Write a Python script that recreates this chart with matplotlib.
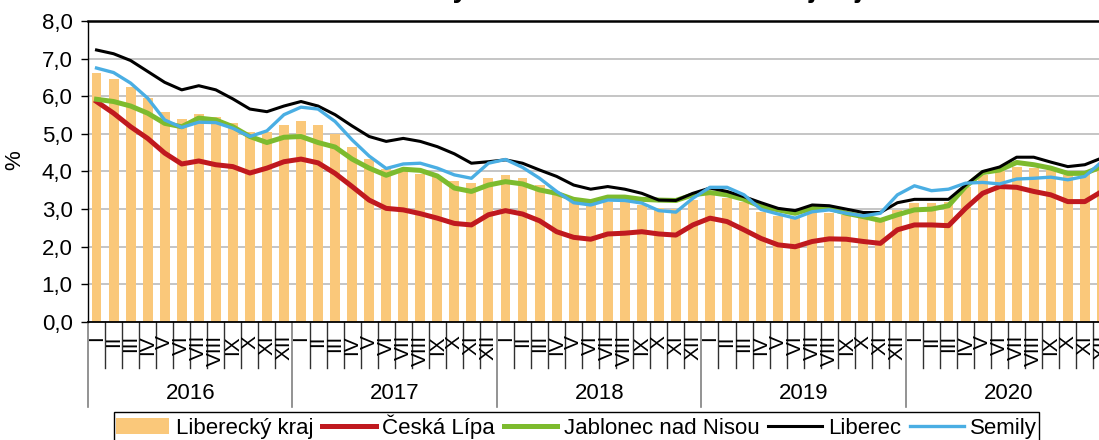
import numpy as np
import matplotlib
matplotlib.use('Agg')
import matplotlib.pyplot as plt
import matplotlib.transforms as mtransforms
from matplotlib.patches import Patch
from matplotlib.lines import Line2D

plt.rcParams['font.family'] = ['Liberation Sans', 'DejaVu Sans']

# data (monthly, I/2016 - XII/2020), in %
months = ['I', 'II', 'III', 'IV', 'V', 'VI', 'VII', 'VIII', 'IX', 'X', 'XI', 'XII']
years = ['2016', '2017', '2018', '2019', '2020']

liberecky_kraj = [6.61, 6.46, 6.24, 5.95, 5.58, 5.40, 5.52, 5.46, 5.28, 5.06, 5.05, 5.24,
                  5.35, 5.24, 5.00, 4.64, 4.33, 4.07, 4.02, 3.93, 3.88, 3.76, 3.69, 3.82,
                  3.91, 3.82, 3.64, 3.38, 3.20, 3.16, 3.20, 3.18, 3.11, 3.02, 3.00, 3.24,
                  3.38, 3.29, 3.20, 2.93, 2.82, 2.76, 2.89, 2.89, 2.85, 2.76, 2.71, 2.98,
                  3.16, 3.16, 3.20, 3.60, 3.91, 4.00, 4.13, 4.09, 4.04, 3.91, 3.95, 4.04]

ceska_lipa = [5.86, 5.55, 5.19, 4.88, 4.49, 4.20, 4.28, 4.18, 4.13, 3.96, 4.09, 4.26,
              4.33, 4.23, 3.95, 3.60, 3.24, 3.02, 2.98, 2.88, 2.76, 2.62, 2.58, 2.85,
              2.96, 2.87, 2.69, 2.40, 2.25, 2.20, 2.34, 2.36, 2.40, 2.34, 2.31, 2.58,
              2.76, 2.67, 2.45, 2.22, 2.05, 2.00, 2.14, 2.21, 2.20, 2.14, 2.09, 2.45,
              2.58, 2.58, 2.56, 3.02, 3.42, 3.60, 3.58, 3.47, 3.38, 3.20, 3.20, 3.47]

jablonec = [5.92, 5.86, 5.74, 5.55, 5.28, 5.19, 5.42, 5.37, 5.19, 4.93, 4.77, 4.91,
            4.93, 4.77, 4.65, 4.33, 4.09, 3.90, 4.06, 4.03, 3.88, 3.56, 3.47, 3.64,
            3.73, 3.67, 3.51, 3.42, 3.26, 3.20, 3.32, 3.32, 3.26, 3.24, 3.23, 3.38,
            3.44, 3.38, 3.26, 3.07, 2.98, 2.89, 3.02, 3.02, 2.89, 2.80, 2.70, 2.85,
            2.98, 3.00, 3.09, 3.60, 3.97, 4.04, 4.24, 4.18, 4.09, 3.95, 3.95, 4.13]

liberec = [7.23, 7.13, 6.95, 6.66, 6.37, 6.17, 6.28, 6.17, 5.93, 5.66, 5.59, 5.74,
           5.86, 5.74, 5.51, 5.21, 4.93, 4.80, 4.88, 4.80, 4.66, 4.47, 4.22, 4.26,
           4.31, 4.22, 4.04, 3.87, 3.64, 3.53, 3.60, 3.53, 3.42, 3.24, 3.23, 3.42,
           3.56, 3.47, 3.33, 3.17, 3.02, 2.96, 3.11, 3.09, 3.00, 2.91, 2.91, 3.17,
           3.26, 3.26, 3.26, 3.64, 4.00, 4.12, 4.38, 4.38, 4.25, 4.13, 4.18, 4.36]

semily = [6.75, 6.63, 6.35, 5.95, 5.37, 5.17, 5.31, 5.30, 5.15, 4.93, 5.08, 5.51,
          5.71, 5.66, 5.33, 4.84, 4.41, 4.08, 4.20, 4.22, 4.09, 3.91, 3.82, 4.22,
          4.32, 4.11, 3.82, 3.47, 3.17, 3.11, 3.24, 3.23, 3.16, 2.96, 2.92, 3.29,
          3.58, 3.58, 3.38, 2.99, 2.87, 2.76, 2.93, 2.98, 2.89, 2.82, 2.89, 3.38,
          3.62, 3.49, 3.53, 3.69, 3.71, 3.67, 3.80, 3.82, 3.85, 3.78, 3.87, 4.26]

c_bar = '#FAC87A'
c_red = '#C0191F'
c_green = '#7DBB2E'
c_black = '#000000'
c_blue = '#4AAEE3'

W, H = 1099, 440
fig = plt.figure(figsize=(W / 100, H / 100), dpi=100)
n = len(liberecky_kraj)
# plot area is wider than the picture, right part is cut off like in the source
ax = fig.add_axes([88 / W, 1 - 322 / H, n * 17.04 / W, 301 / H])

x = np.arange(n)
ax.bar(x, liberecky_kraj, width=0.58, color=c_bar, zorder=2)
ax.plot(x, ceska_lipa, color=c_red, lw=3.6, zorder=3, solid_joinstyle='round')
ax.plot(x, jablonec, color=c_green, lw=3.6, zorder=4, solid_joinstyle='round')
ax.plot(x, liberec, color=c_black, lw=2.2, zorder=5, solid_joinstyle='round')
ax.plot(x, semily, color=c_blue, lw=2.4, zorder=6, solid_joinstyle='round')

ax.set_xlim(-0.5, n - 0.5)
ax.set_ylim(0, 8)
yt = np.arange(0, 9)
ax.set_yticks(yt)
ax.set_yticklabels([f'{v:.1f}'.replace('.', ',') for v in yt], fontsize=16)
ax.tick_params(axis='y', length=5, width=1, pad=6)
ax.set_xticks([])
ax.yaxis.grid(True, color='#C0C0C0', lw=1.3)
ax.set_axisbelow(True)
for s in ['left', 'bottom', 'top']:
    ax.spines[s].set_color('black')
ax.spines['top'].set_linewidth(1.8)
ax.spines['bottom'].set_linewidth(1.3)
ax.spines['left'].set_linewidth(1.0)
ax.spines['right'].set_visible(False)

# category axis: months, separators and years
trans = mtransforms.blended_transform_factory(ax.transData, ax.transAxes)
ax_h = 301.0
for i in range(n):
    ax.text(i, -13 / ax_h, months[i % 12], transform=trans, rotation=90,
            ha='center', va='top', fontsize=15)
for k in range(1, n):
    if k % 12:
        ax.plot([k - 0.5, k - 0.5], [0, -46 / ax_h], transform=trans,
                color='#303030', lw=1.0, clip_on=False)
for j in range(len(years)):
    ax.plot([12 * j - 0.5, 12 * j - 0.5], [0, -85 / ax_h], transform=trans,
            color='#808080', lw=1.2, clip_on=False)
    ax.text(12 * j + 5.5, -71 / ax_h, years[j], transform=trans,
            ha='center', va='center', fontsize=16)

fig.text(15 / W, 1 - 160 / H, '%', rotation=90, ha='center', va='center', fontsize=16)

# title, mostly above the visible area
title = 'Podíl nezaměstnaných osob v Libereckém kraji a jeho okresech'
renderer = fig.canvas.get_renderer()
pre = fig.text(0, 0, title[:title.index('ý')], fontsize=20, fontweight='bold')
w_pre = pre.get_window_extent(renderer).width
pre.remove()
yy = fig.text(0, 0, 'ý', fontsize=20, fontweight='bold')
w_y = yy.get_window_extent(renderer).width
yy.remove()
fig.text((460 - w_pre - w_y / 2) / W, 1 + 2.8 / H, title, fontsize=20,
         fontweight='bold', ha='left', va='baseline')

handles = [Patch(facecolor=c_bar, edgecolor='none'),
           Line2D([], [], color=c_red, lw=3.6),
           Line2D([], [], color=c_green, lw=3.6),
           Line2D([], [], color=c_black, lw=2.2),
           Line2D([], [], color=c_blue, lw=2.4)]
labels = ['Liberecký kraj', 'Česká Lípa', 'Jablonec nad Nisou', 'Liberec', 'Semily']
leg = fig.legend(handles, labels, loc='upper center', bbox_to_anchor=(576.5 / W, 1 - 412 / H),
                 ncol=5, frameon=True, fancybox=False, edgecolor='black', framealpha=1,
                 fontsize=16, handlelength=2.4, handleheight=0.75, columnspacing=0.4,
                 handletextpad=0.3, borderpad=0.1, borderaxespad=0)
leg.get_frame().set_linewidth(1.0)

fig.savefig('out.png', dpi=100)
